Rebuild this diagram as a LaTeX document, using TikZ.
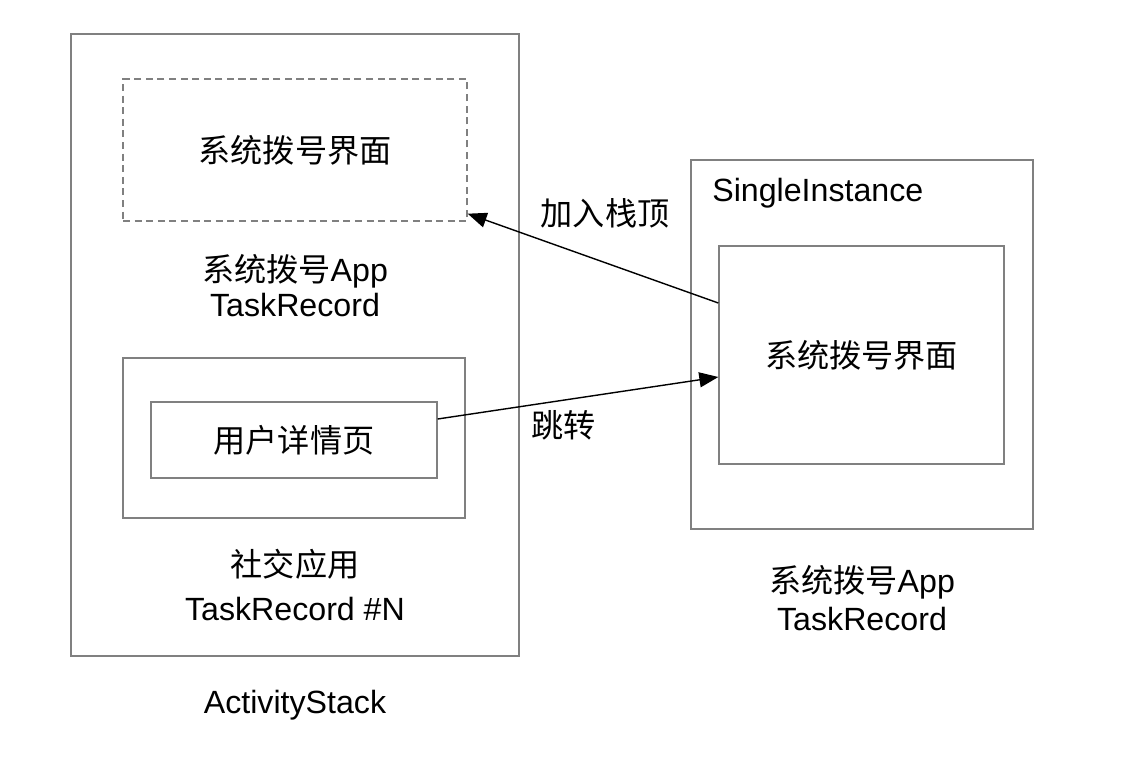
\documentclass[tikz,border=0pt]{standalone}
\usepackage{fontspec}
\setmainfont{Liberation Sans}
\newfontfamily\cjk{Noto Sans CJK SC}
\usetikzlibrary{arrows.meta, positioning, calc}
\definecolor{sgray}{HTML}{808080}
\tikzset{
  >=Triangle,
  font=\fontsize{18.3}{20}\selectfont,
  box/.style={
    draw=sgray, fill=none, line width=0.8pt, inner sep=0pt,
    minimum width=#1
  },
  dashbox/.style={box=#1, dash pattern=on 4pt off 2.6pt},
  lab/.style={align=center, inner sep=0pt},
  arr/.style={-{Triangle[length=3.8mm, width=3mm]}, line width=0.8pt, draw=black}
}
\begin{document}
\begin{tikzpicture}[x=0.02cm, y=-0.02cm]
  \useasboundingbox (0,0) rectangle (1146,766);
  % left: activity stack
  \node[box=8.96cm, minimum height=12.44cm] (stack) at (295,345) {};
  \node[dashbox=6.88cm, minimum height=2.84cm] (top) at (295,150) {{\cjk 系统拨号界面}};
  \node[lab] (toplab) at (295,286) {{\cjk 系统拨号}App\\TaskRecord};
  \node[box=6.84cm, minimum height=3.2cm] (social) at (294,438) {};
  \node[box=5.72cm, minimum height=1.52cm] (detail) at (294,440) {{\cjk 用户详情页}};
  \node[lab] (sociallab) at (295,585) {{\cjk 社交应用}\\[5pt]TaskRecord \#N};
  \node[lab] (stacklab) at (295,705) {ActivityStack};
  % right: single instance
  \node[box=6.84cm, minimum height=7.38cm] (single) at (862,344.5) {};
  \node[lab, anchor=west] (singlelab) at (712,193) {SingleInstance};
  \node[box=5.7cm, minimum height=4.36cm] (dial) at (861.5,355) {{\cjk 系统拨号界面}};
  \node[lab] (diallab) at (862,598) {{\cjk 系统拨号}App\\[2pt]TaskRecord};
  % arrows
  \draw[arr] ([yshift=1.04cm]dial.west) -- ([yshift=0.16cm]top.south east)
    node[pos=0.5, above=0.6cm, xshift=0.24cm, lab] (pushlab) {{\cjk 加入栈顶}};
  \draw[arr] ([yshift=0.42cm]detail.east) -- ([yshift=-0.44cm]dial.west)
    node[pos=0.45, below=0.2cm, lab] (jumplab) {{\cjk 跳转}};
\end{tikzpicture}
\end{document}
